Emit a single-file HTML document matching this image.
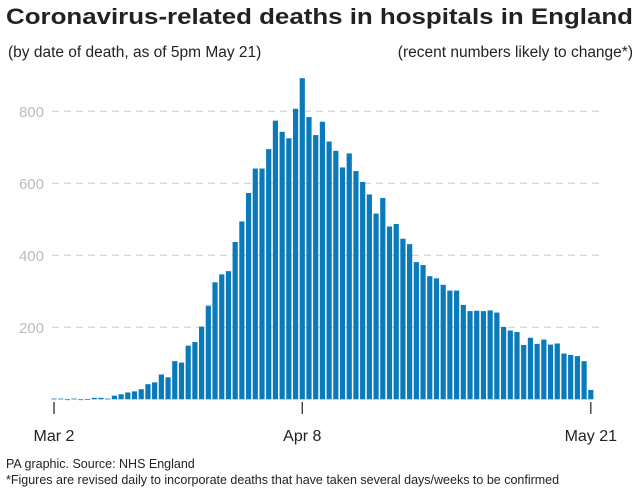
<!DOCTYPE html>
<html><head><meta charset="utf-8"><style>
body{margin:0;width:640px;height:493px;background:#fff;overflow:hidden;font-family:"Liberation Sans",sans-serif;color:#222}
svg{position:absolute;left:0;top:0}
</style></head><body>
<svg width="640" height="493">
<text x="6" y="24" font-size="22.5" font-weight="bold" fill="#222" textLength="627" lengthAdjust="spacingAndGlyphs">Coronavirus-related deaths in hospitals in England</text>
<text x="8" y="57" font-size="15.5" fill="#222">(by date of death, as of 5pm May 21)</text>
<text x="633" y="57" font-size="15.5" fill="#222" text-anchor="end">(recent numbers likely to change*)</text>
<g id="grid"></g><g id="bars"></g><g id="xaxis"></g>
<text x="6" y="468" font-size="12.5" fill="#222">PA graphic. Source: NHS England</text>
<text x="6" y="484" font-size="12.5" fill="#222">*Figures are revised daily to incorporate deaths that have taken several days/weeks to be confirmed</text>
</svg>
<script>
const deaths=[2,2,0,2,0,1,4,4,2,10,14,19,22,28,42,47,69,61,106,102,149,159,202,260,325,347,356,437,494,573,641,641,695,774,743,725,807,892,784,734,771,716,690,644,683,634,604,569,516,559,480,487,446,431,381,373,342,336,318,302,302,262,245,246,245,247,241,201,191,187,151,171,154,166,152,155,127,123,120,106,26];
const yTicks=[200,400,600,800];
const xTickIdx=[0,37,80];
const xTickLabels=["Mar 2","Apr 8","May 21"];
const NS="http://www.w3.org/2000/svg";
const y=v=>399.3-v*0.36;
const x=i=>54+i*6.71;
const grid=document.getElementById('grid'),bars=document.getElementById('bars'),xa=document.getElementById('xaxis');
yTicks.forEach(t=>{
const l=document.createElementNS(NS,'line');


l.setAttribute('x1',52);l.setAttribute('x2',600);l.setAttribute('y1',y(t));l.setAttribute('y2',y(t));
l.setAttribute('stroke','#ccc');l.setAttribute('stroke-dasharray','7,5');l.setAttribute('stroke-width','1');
grid.appendChild(l);
const tx=document.createElementNS(NS,'text');


tx.setAttribute('x',44);tx.setAttribute('y',y(t)+5.5);tx.setAttribute('text-anchor','end');
tx.setAttribute('font-size','15');tx.setAttribute('fill','#bbb');tx.textContent=t;
grid.appendChild(tx);
});
deaths.forEach((v,i)=>{
const r=document.createElementNS(NS,'rect');


r.setAttribute('x',x(i)-2.6);r.setAttribute('width',5.2);
r.setAttribute('y',y(v));r.setAttribute('height',Math.max(0.8,v*0.36));
r.setAttribute('fill','#0a7bba');
bars.appendChild(r);
});
xTickIdx.forEach((d,k)=>{
const l=document.createElementNS(NS,'line');


l.setAttribute('x1',x(d));l.setAttribute('x2',x(d));l.setAttribute('y1',402);l.setAttribute('y2',414);
l.setAttribute('stroke','#333');l.setAttribute('stroke-width','1.3');
xa.appendChild(l);
const tx=document.createElementNS(NS,'text');


tx.setAttribute('x',x(d));tx.setAttribute('y',441);tx.setAttribute('text-anchor','middle');
tx.setAttribute('font-size','16');tx.setAttribute('fill','#222');tx.textContent=xTickLabels[k];
xa.appendChild(tx);
});
</script>
</body></html>
